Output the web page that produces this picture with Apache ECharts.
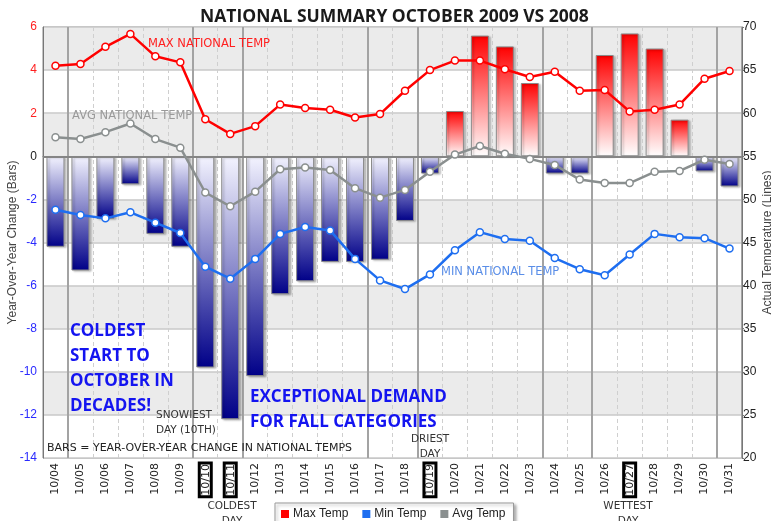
<!DOCTYPE html>
<html>
<head>
<meta charset="utf-8">
<script src="https://cdn.jsdelivr.net/npm/echarts@6/dist/echarts.min.js"></script>
<style>html,body{margin:0;padding:0;background:#fff}#c{width:771px;height:521px}</style>
</head>
<body>
<div id="c"></div>
<script>
var categories = ['10/04','10/05','10/06','10/07','10/08','10/09','10/10','10/11','10/12','10/13','10/14','10/15','10/16','10/17','10/18','10/19','10/20','10/21','10/22','10/23','10/24','10/25','10/26','10/27','10/28','10/29','10/30','10/31'];
var yoyChange = [-4.2,-5.3,-2.9,-1.3,-3.6,-4.2,-9.8,-12.2,-10.2,-6.4,-5.8,-4.9,-4.9,-4.8,-3.0,-0.8,2.1,5.6,5.1,3.4,-0.8,-0.8,4.7,5.7,5.0,1.7,-0.7,-1.4];
var maxTemp = [65.5,65.7,67.7,69.2,66.6,65.9,59.3,57.6,58.5,61.0,60.6,60.4,59.5,59.9,62.6,65.0,66.1,66.1,65.1,64.2,64.8,62.6,62.7,60.2,60.4,61.0,64.0,64.9];
var minTemp = [48.8,48.2,47.8,48.5,47.3,46.1,42.2,40.8,43.1,46.0,46.8,46.4,43.1,40.6,39.6,41.3,44.1,46.2,45.4,45.2,43.2,41.9,41.2,43.6,46.0,45.6,45.5,44.3];
var avgTemp = [57.2,57.0,57.8,58.8,57.0,56.0,50.8,49.2,50.9,53.5,53.7,53.4,51.3,50.2,51.1,53.2,55.2,56.2,55.3,54.7,54.0,52.3,51.9,51.9,53.2,53.3,54.6,54.1];
var boxedDays = ['10/10','10/11','10/19','10/27'];
var weekendEdges = [1,6,8,13,15,20,22,27];

var chart = echarts.init(document.getElementById('c'));

var redGrad = new echarts.graphic.LinearGradient(0,0,0,1,[{offset:0,color:'#ff0000'},{offset:1,color:'#ffffff'}]);
var blueGrad = new echarts.graphic.LinearGradient(0,0,0,1,[{offset:0,color:'#f4f4ff'},{offset:1,color:'#000088'}]);

var barData = yoyChange.map(function(v){
  return {value:v, itemStyle:{color: v>=0 ? redGrad : blueGrad}};
});

function lineSeries(name, data, color){
  return {
    name:name, type:'line', yAxisIndex:1, data:data, z:5,
    symbol:'circle', symbolSize:7, showSymbol:true,
    lineStyle:{color:color, width:2.5},
    itemStyle:{color:'#ffffff', borderColor:color, borderWidth:1.5},
    emphasis:{disabled:true}, animation:false
  };
}

var labelFont = 'DejaVu Sans';
function note(x, y, text, fill, font, extra){
  var st = {text:text, fill:fill, font:font};
  if (extra) for (var k in extra) st[k] = extra[k];
  return {type:'text', x:x, y:y, z:100, zlevel:0, silent:true, style:st};
}
var smallFont = '10.5px "DejaVu Sans"';
var lineFont = '11.5px "DejaVu Sans"';
var bigFont = 'bold 17px "Open Sans"';

var option = {
  animation:false,
  title:{text:'NATIONAL SUMMARY OCTOBER 2009 VS 2008', left:195, top:3,
    textStyle:{fontFamily:'Open Sans', fontWeight:'bold', fontSize:17.5, color:'#1a1a1a'}},
  legend:{
    left:275, top:503, icon:'rect', itemWidth:6, itemHeight:6, itemGap:14,
    padding:[5,8,6,6], borderColor:'#999', borderWidth:1, backgroundColor:'#fff',
    shadowColor:'rgba(0,0,0,0.3)', shadowBlur:3, shadowOffsetX:2, shadowOffsetY:2,
    textStyle:{fontFamily:'Liberation Sans', fontSize:12, color:'#222'},
    data:[{name:'Max Temp', itemStyle:{color:'#ff0000'}},{name:'Min Temp', itemStyle:{color:'#1e6ef0'}},{name:'Avg Temp', itemStyle:{color:'#8a8f8f'}}]
  },
  grid:{left:43, right:29, top:27, bottom:63, show:true, borderColor:'#888', borderWidth:1, containLabel:false, outerBoundsMode:'none'},
  xAxis:[{
    type:'category', data:categories, boundaryGap:true,
    axisLine:{lineStyle:{color:'#777'}}, axisTick:{show:false},
    axisLabel:{rotate:90, fontFamily:labelFont, fontSize:11, color:'#222', margin:5,
      formatter:function(v){ return boxedDays.indexOf(v)>=0 ? '{b|'+v+'}' : v; },
      rich:{b:{borderColor:'#000', borderWidth:3, padding:[1,1,0,1], fontFamily:labelFont, fontSize:11, color:'#222'}}},
    splitLine:{show:true, interval:function(i){ return weekendEdges.indexOf(i)<0; },
      lineStyle:{color:'#cfcfcf', type:[4,3], width:1}}
  },{
    type:'category', data:categories, boundaryGap:true, position:'bottom',
    axisLine:{show:false}, axisTick:{show:false}, axisLabel:{show:false},
    splitLine:{show:true, interval:function(i){ return weekendEdges.indexOf(i)>=0; },
      lineStyle:{color:'#a3a3a3', width:2}}
  }],
  yAxis:[{
    type:'value', min:-14, max:6, interval:2, position:'left',
    name:'Year-Over-Year Change (Bars)', nameLocation:'middle', nameGap:24, nameMoveOverlap:false,
    nameTextStyle:{fontFamily:'Liberation Sans', fontSize:12, color:'#444'},
    axisLine:{show:true, lineStyle:{color:'#777'}}, axisTick:{show:false},
    axisLabel:{fontFamily:'Liberation Sans', fontSize:12, margin:6,
      color:function(v){ v=Number(v); return v>0 ? '#ff2020' : (v<0 ? '#2a2aff' : '#222'); }},
    splitLine:{show:true, lineStyle:{color:'#c8c8c8', width:1.5}},
    splitArea:{show:true, areaStyle:{color:['#ffffff','#ebebeb']}}
  },{
    type:'value', min:20, max:70, interval:5, position:'right',
    name:'Actual Temperature (Lines)', nameLocation:'middle', nameGap:20, nameMoveOverlap:false,
    nameTextStyle:{fontFamily:'Liberation Sans', fontSize:12, color:'#444'},
    axisLine:{show:true, lineStyle:{color:'#777'}}, axisTick:{show:true, length:2, lineStyle:{color:'#777'}},
    axisLabel:{fontFamily:'Liberation Sans', fontSize:12, color:'#222', margin:1},
    splitLine:{show:false}
  }],
  series:[{
    name:'YoY', type:'bar', yAxisIndex:0, data:barData, barWidth:18, z:2,
    itemStyle:{borderColor:'#8a8a8a', borderWidth:1, shadowColor:'rgba(0,0,0,0.25)', shadowOffsetX:2, shadowOffsetY:1, shadowBlur:2},
    emphasis:{disabled:true},
    markLine:{silent:true, symbol:'none', label:{show:false},
      lineStyle:{color:'#858585', width:2, type:'solid'}, data:[{yAxis:0}]}
  },
  lineSeries('Max Temp', maxTemp, '#ff0000'),
  lineSeries('Min Temp', minTemp, '#1e6ef0'),
  lineSeries('Avg Temp', avgTemp, '#8a8f8f')
  ],
  graphic:{elements:[
    note(148, 38, 'MAX NATIONAL TEMP', '#ff2020', lineFont),
    note(72, 110, 'AVG NATIONAL TEMP', '#9a9a9a', lineFont),
    note(441, 266, 'MIN NATIONAL TEMP', '#5a8ee8', lineFont),
    note(70, 319, 'COLDEST\nSTART TO\nOCTOBER IN\nDECADES!', '#1414f0', bigFont, {lineHeight:25}),
    note(250, 385, 'EXCEPTIONAL DEMAND\nFOR FALL CATEGORIES', '#1414f0', bigFont, {lineHeight:25}),
    note(156, 408, 'SNOWIEST\nDAY (10TH)', '#333', smallFont, {lineHeight:15}),
    note(430, 432, 'DRIEST\nDAY', '#333', smallFont, {lineHeight:15, align:'center'}),
    note(47, 443, 'BARS = YEAR-OVER-YEAR CHANGE IN NATIONAL TEMPS', '#222', '11px "DejaVu Sans"'),
    note(232, 499, 'COLDEST\nDAY', '#333', smallFont, {lineHeight:15, align:'center'}),
    note(628, 499, 'WETTEST\nDAY', '#333', smallFont, {lineHeight:15, align:'center'})
  ]}
};
chart.setOption(option);
</script>
</body>
</html>
